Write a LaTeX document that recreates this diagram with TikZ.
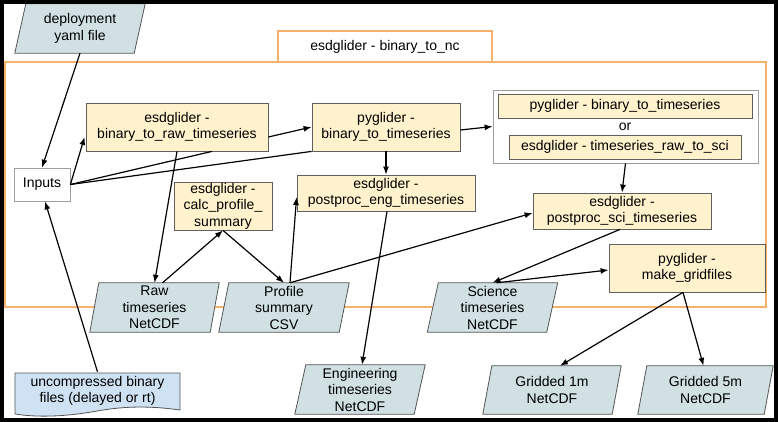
\documentclass[tikz,border=0pt]{standalone}
\usepackage{fontspec}
\setmainfont{Liberation Sans}
\usetikzlibrary{arrows.meta,calc}
\pgfdeclarelayer{bg}
\pgfsetlayers{bg,main}
\definecolor{procfill}{HTML}{FFF2CC}
\definecolor{procline}{HTML}{5F5F5F}
\definecolor{datafill}{HTML}{D0E0E3}
\definecolor{dataline}{HTML}{555555}
\definecolor{uncfill}{HTML}{CFE2F3}
\definecolor{orangec}{HTML}{F6B26B}
\definecolor{greyline}{HTML}{9E9E9E}
\newcommand{\drawpara}[2]{%
  \begin{pgfonlayer}{bg}
    \filldraw[fill=datafill, draw=dataline, line width=0.8pt]
      ($(#1.north west)+(#2/2,0)$) -- ($(#1.north east)+(#2/2,0)$) --
      ($(#1.south east)-(#2/2,0)$) -- ($(#1.south west)-(#2/2,0)$) -- cycle;
  \end{pgfonlayer}}
\begin{document}
\begin{tikzpicture}[x=1pt,y=-1pt,
  txt/.style={font=\fontsize{14}{16.5}\selectfont, align=center, inner sep=0pt},
  proc/.style={txt, draw=procline, fill=procfill, line width=0.8pt},
  data/.style={txt},
  arr/.style={line width=1.2pt, -{Latex[length=8pt,width=6pt]}},
  ln/.style={line width=1.2pt}]
\useasboundingbox (0,0) rectangle (778,422);

% background and orange frame
\begin{pgfonlayer}{bg}
  \fill[white] (0,0) rectangle (778,422);
  \draw[orangec, line width=2pt] (5,62) rectangle (766,307);
\end{pgfonlayer}
\node[txt, draw=orangec, line width=2pt, fill=white, minimum width=214, minimum height=31] (tab) at (385,46.5) {esdglider - binary\_to\_nc};

% data nodes (parallelograms)
\node[data, minimum width=119, minimum height=49] (yaml) at (80,28.5) {deployment\\yaml file};
\drawpara{yaml}{11}
\node[data, minimum width=120, minimum height=49] (raw) at (154.5,307.5) {Raw\\timeseries\\NetCDF};
\drawpara{raw}{9}
\node[data, minimum width=120, minimum height=49] (profile) at (284,307.5) {Profile\\summary\\CSV};
\drawpara{profile}{10}
\node[data, minimum width=119, minimum height=49] (science) at (492.5,307.5) {Science\\timeseries\\NetCDF};
\drawpara{science}{11}
\node[data, minimum width=119, minimum height=49] (eng) at (360,389.5) {Engineering\\timeseries\\NetCDF};
\drawpara{eng}{11}
\node[data, minimum width=129, minimum height=48] (g1m) at (552,390) {Gridded 1m\\NetCDF};
\drawpara{g1m}{9}
\node[data, minimum width=126, minimum height=48] (g5m) at (705.5,390) {Gridded 5m\\NetCDF};
\drawpara{g5m}{9}

% uncompressed binary files (document shape)
\node[txt, minimum width=165, minimum height=38] (unc) at (97.5,391) {uncompressed binary\\files (delayed or rt)};
\begin{pgfonlayer}{bg}
  \filldraw[fill=uncfill, draw=dataline, line width=0.8pt]
    (15,373) -- (180,373) -- (180,410)
    .. controls (145,405) and (120,407) .. (97,411)
    .. controls (70,416) and (40,418) .. (15,414) -- cycle;
\end{pgfonlayer}

% Inputs
\node[txt, draw=greyline, fill=white, line width=0.8pt, minimum width=56, minimum height=33] (inputs) at (42,184.5) {Inputs};

% process boxes
\node[proc, minimum width=182, minimum height=48] (b2raw) at (177,127) {esdglider -\\binary\_to\_raw\_timeseries};
\node[proc, minimum width=148, minimum height=48] (pyb2ts) at (386,127) {pyglider -\\binary\_to\_timeseries};
\node[txt, draw=greyline, fill=white, line width=0.8pt, minimum width=265, minimum height=73] (grey) at (625.5,126.5) {};
\node[proc, minimum width=254, minimum height=24] (pyb2tsb) at (625,106) {pyglider - binary\_to\_timeseries};
\node[txt] (or) at (625,127) {or};
\node[proc, minimum width=232, minimum height=24] (ts2sci) at (625,147) {esdglider - timeseries\_raw\_to\_sci};
\node[proc, minimum width=98, minimum height=48] (calc) at (223,206) {esdglider -\\calc\_profile\_\\summary};
\node[proc, minimum width=178, minimum height=36] (engproc) at (386,193) {esdglider -\\postproc\_eng\_timeseries};
\node[proc, minimum width=178, minimum height=36] (sciproc) at (622,211) {esdglider -\\postproc\_sci\_timeseries};
\node[proc, minimum width=156, minimum height=48] (gridproc) at (687,268) {pyglider -\\make\_gridfiles};

% connectors
\draw[arr] (yaml.south) -- (inputs.north);
\draw[arr] (unc.north) -- ($(inputs.south)+(3,0)$);
\draw[arr] (inputs.east) -- ($(b2raw.west)+(-1,10)$);
\draw[ln] (inputs.east) -- ($(b2raw.south)+(35,0)$);
\draw[ln] (inputs.east) -- (pyb2ts.south west);
\draw[arr] ($(b2raw.east)+(0,10)$) -- (pyb2ts.west);
\draw[arr] ($(pyb2ts.east)+(0,3)$) -- (grey.west);
\draw[arr] (pyb2ts.south) -- (engproc.north);
\draw[arr] (grey.south) -- (sciproc.north);
\draw[arr] (b2raw.south) -- (raw.north);
\draw[arr] ($(raw.north)+(8,0)$) -- (calc.south);
\draw[arr] (calc.south) -- (profile.north);
\draw[arr] ($(profile.north)+(6,0)$) -- ($(engproc.west)+(0,4)$);
\draw[arr] ($(profile.north)+(6,0)$) -- ($(sciproc.west)+(0,2)$);
\draw[arr] ($(engproc.south)+(1,0)$) -- ($(eng.north)+(2,0)$);
\draw[arr] ($(sciproc.south)+(-2,0)$) -- (science.north);
\draw[arr] ($(science.north)+(4,0)$) -- ($(gridproc.west)+(0,2)$);
\draw[arr] ($(gridproc.south)+(-4,0)$) -- ($(g1m.north)+(8,0)$);
\draw[arr] ($(gridproc.south)+(-4,0)$) -- ($(g5m.north)+(-2,0)$);

% outer border
\draw[line width=3.5pt] (2,2) rectangle (776,420);
\end{tikzpicture}
\end{document}
